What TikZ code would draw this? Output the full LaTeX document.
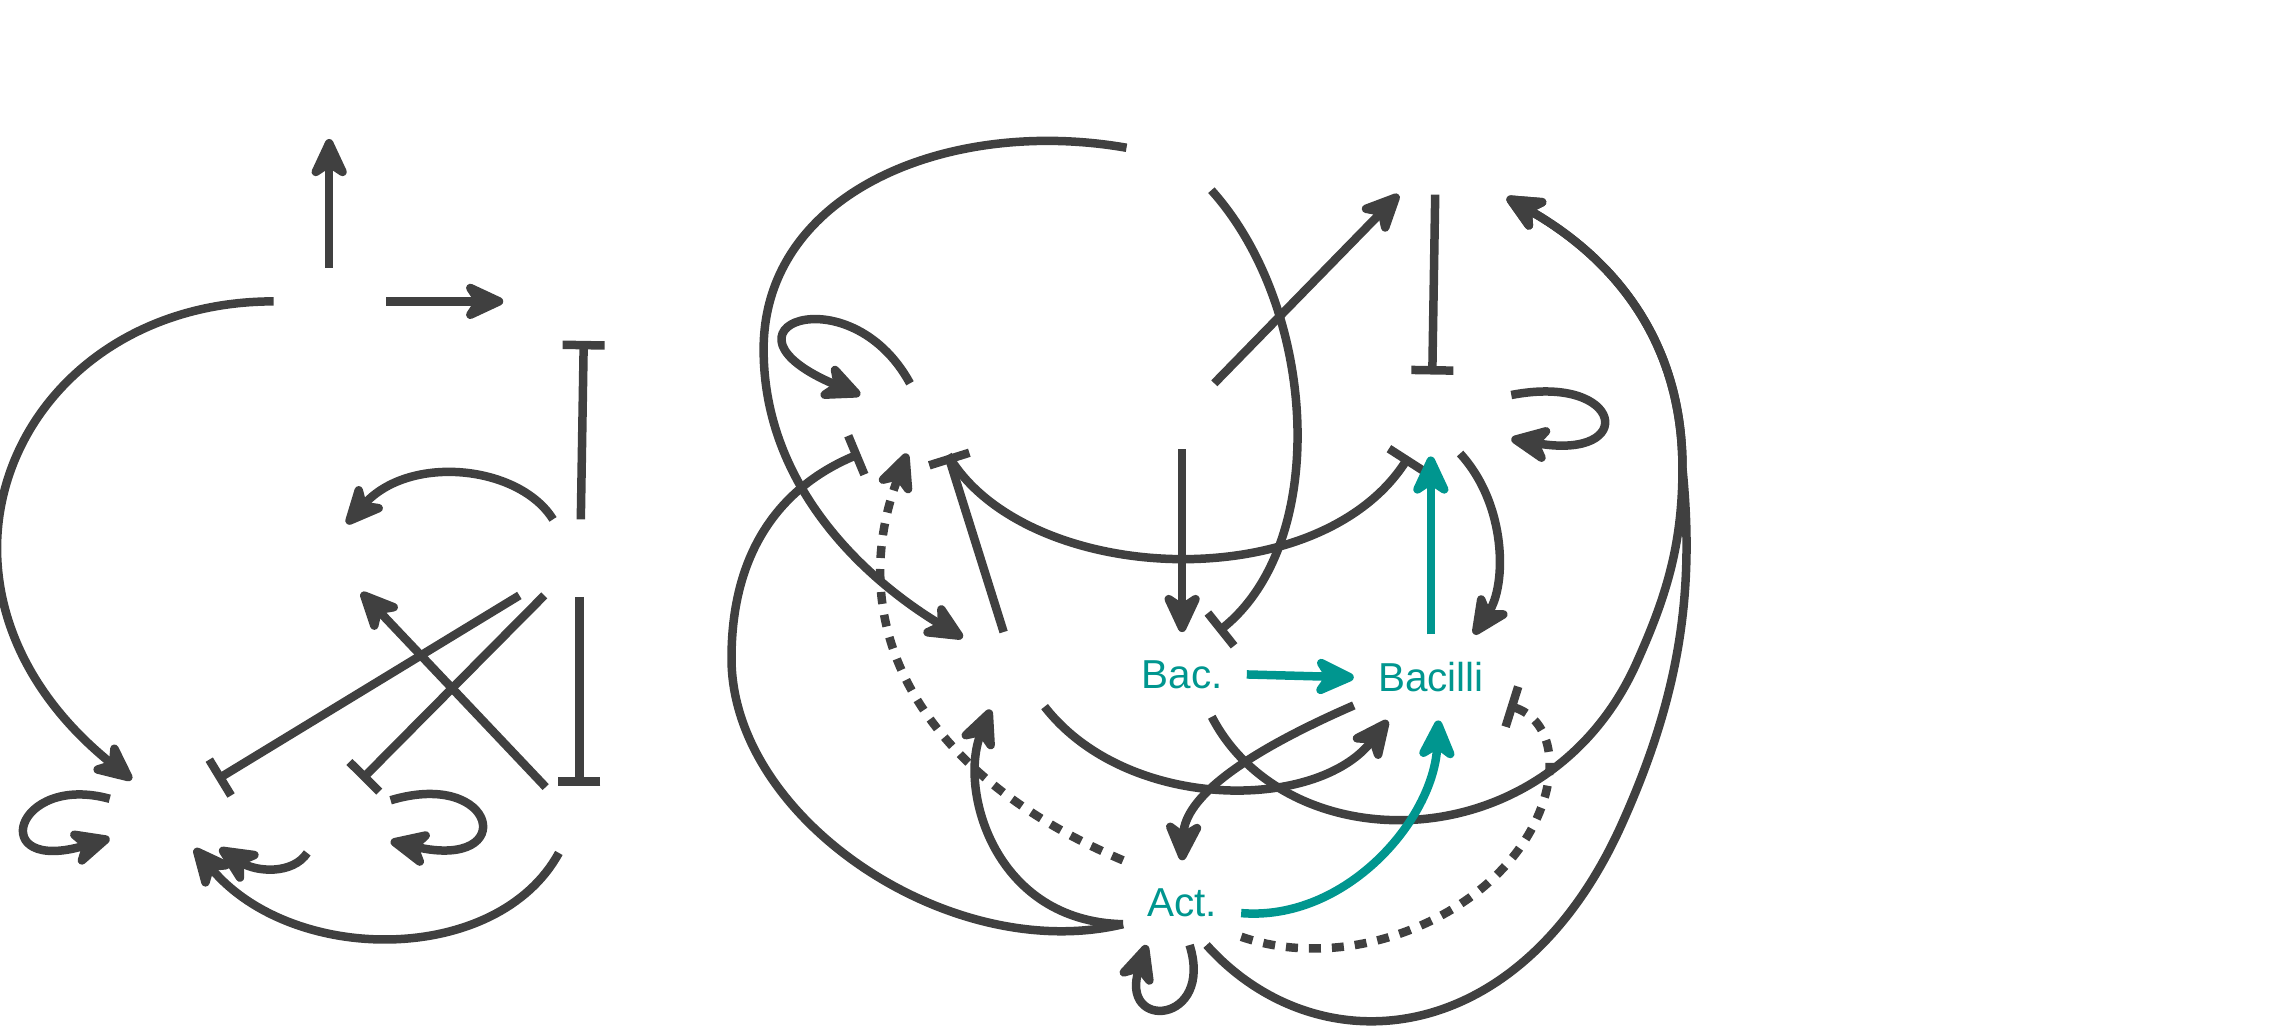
\documentclass[tikz,border=0pt]{standalone}
\usepackage{fontspec}
\setmainfont{Liberation Sans}
\usetikzlibrary{arrows.meta}
\definecolor{edgegray}{RGB}{64,64,64}
\definecolor{bacteal}{RGB}{0,150,143}

\begin{document}
\begin{tikzpicture}[x=0.1463mm, y=-0.1463mm, line width=0.85mm, edgegray,
  >={Stealth[length=5mm,width=4.6mm,inset=1.5mm,round]},
  inh/.style={-{Bar[width=4.2mm]}}, dots/.style={dash pattern=on 1.2mm off 1.1mm},
  taxon/.style={text=bacteal, font=\fontsize{11.5}{13}\selectfont, inner xsep=2mm, inner ysep=2.4mm}]
  \useasboundingbox (0,0) rectangle (1568,708);
  % labelled taxa
  \node[taxon] (bac) at (808,461) {Bac.};
  \node[taxon] (bacilli) at (978,463) {Bacilli};
  \node[taxon] (act) at (808,617) {Act.};
  % edge ends at the unlabelled taxa, left group
  \coordinate (a1) at (225,183); \coordinate (t1) at (225,95);
  \coordinate (a2) at (264,206); \coordinate (b1) at (344,206);
  \coordinate (a3) at (187,206); \coordinate (c1) at (90,533);
  \coordinate (d1) at (397,355); \coordinate (b2) at (399,233);
  \coordinate (d2) at (378,355); \coordinate (h1) at (237,358);
  \coordinate (g1) at (373,538); \coordinate (h2) at (247,405);
  \coordinate (d3) at (355,407); \coordinate (e1) at (148,533);
  \coordinate (d4) at (372,407); \coordinate (f1) at (247,533);
  \coordinate (d5) at (396,408); \coordinate (g2) at (396,537);
  \coordinate (c2) at (75,546);  \coordinate (c3) at (75,573);
  \coordinate (f2) at (210,583); \coordinate (e2) at (150,580);
  \coordinate (g3) at (382,583); \coordinate (e3) at (133,580);
  \coordinate (f3) at (267,547); \coordinate (f4) at (267,575);
  % edge ends at the unlabelled taxa, right group
  \coordinate (n1a) at (770,101); \coordinate (n1b) at (828,130);
  \coordinate (n2a) at (956,133); \coordinate (n2b) at (981,133); \coordinate (n2c) at (1030,135);
  \coordinate (n3s) at (648,311); \coordinate (n3c) at (622,262); \coordinate (n3d) at (588,270);
  \coordinate (n3e) at (588,310); \coordinate (n3f) at (620,310);
  \coordinate (n4a) at (658,436); \coordinate (n4b) at (686,432);
  \coordinate (n4c) at (677,485); \coordinate (n4d) at (714,483);
  \coordinate (n5a) at (830,262); \coordinate (n5b) at (808,307);
  \coordinate (ya) at (979,256); \coordinate (yb) at (1033,270); \coordinate (yc) at (1033,300);
  \coordinate (yd) at (998,310); \coordinate (ye) at (978,312); \coordinate (yf) at (963,312);

  % left group
  \draw[->](a1)--(t1); \draw[->](a2)--(b1);
  \draw[->](a3) .. controls (10,206) and (-75,400) .. (c1);
  \draw[inh](d1)--(b2);
  \draw[->](d2) .. controls (355,318) and (280,310) .. (h1);
  \draw[->](g1)--(h2); \draw[inh](d3)--(e1); \draw[inh](d4)--(f1); \draw[inh](d5)--(g2);
  \draw[->](c2) .. controls (10,528) and (-10,598) .. (c3);
  \draw[->](f2) .. controls (200,598) and (175,596) .. (e2);
  \draw[->](g3) .. controls (340,660) and (200,660) .. (e3);
  \draw[->](f3) .. controls (340,525) and (355,595) .. (f4);

  % right group
  \draw[->](n1a) .. controls (650,80) and (525,130) .. (522,235) .. controls (520,330) and (590,395) .. (n4a);
  \draw[inh](n1b) .. controls (900,210) and (910,370) .. (bac.50);
  \draw[->](n5a)--(n2a); \draw[inh](n2b)--(ya); \draw[->](n5b)--(bac.north);
  \draw[->](yb) .. controls (1110,255) and (1120,315) .. (yc);
  \draw[->](yd) .. controls (1030,345) and (1030,400) .. (bacilli.45);
  \draw[inh](n3s) .. controls (700,400) and (900,410) .. (yf);
  \draw[inh](n4b)--(n3s);
  \draw[->](n3c) .. controls (580,185) and (480,225) .. (n3d);
  \draw[inh](act.-160) .. controls (650,660) and (500,560) .. (500,450) .. controls (500,370) and (540,330) .. (n3e);
  \draw[->,dots](act.north west) .. controls (630,530) and (575,430) .. (n3f);
  \draw[->](act.-160) .. controls (680,630) and (655,540) .. (n4c);
  \draw[->](n4d) .. controls (770,555) and (900,555) .. (bacilli.-135);
  \draw[->](bac.-55) .. controls (880,590) and (1060,590) .. (1120,450) .. controls (1140,405) and (1150,370) .. (1150,320) .. controls (1150,230) and (1100,175) .. (n2c);
  \draw[->](act.-60) .. controls (900,730) and (1040,720) .. (1110,560) .. controls (1150,470) and (1158,400) .. (1150,320) .. controls (1150,230) and (1100,175) .. (n2c);
  \draw[->](bacilli.-160) .. controls (850,515) and (810,545) .. (act.north);
  \draw[->](act.-80) .. controls (830,700) and (765,705) .. (act.-130);
  \draw[inh,dots](act.-30) .. controls (920,665) and (1010,630) .. (1045,570) .. controls (1068,530) and (1062,492) .. (bacilli.-20);
  % teal edges
  \draw[->,bacteal](bac.east)--(bacilli.west);
  \draw[->,bacteal](bacilli.north)--(ye);
  \draw[->,bacteal](act.-10) .. controls (920,630) and (980,560) .. (bacilli.-80);
\end{tikzpicture}
\end{document}
